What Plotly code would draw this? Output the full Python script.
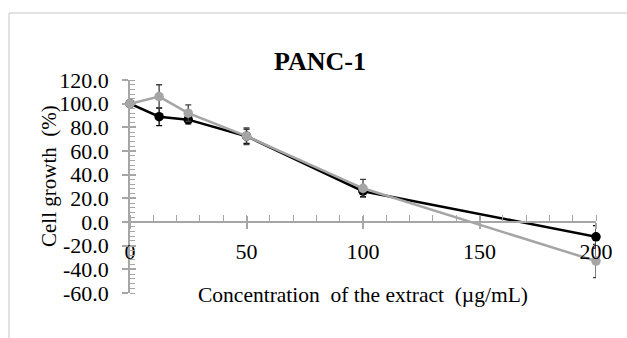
import plotly.graph_objects as go

# ---- data ----
conc = [0, 12.5, 25, 50, 100, 200]
series_black = [100.0, 89.0, 86.5, 72.5, 26.0, -12.5]
err_black = [0.0, 7.5, 3.5, 6.0, 4.5, 9.5]
series_gray = [100.0, 106.0, 92.0, 72.5, 28.5, -33.0]
err_gray = [0.0, 10.0, 7.0, 7.0, 7.5, 14.0]
y_tickvals = [-60, -40, -20, 0, 20, 40, 60, 80, 100, 120]
y_ticktext = ["-60.0", "-40.0", "-20.0", "0.0", "20.0", "40.0", "60.0", "80.0", "100.0", "120.0"]
x_tickvals = [0, 50, 100, 150, 200]
x_ticktext = ["0", "50", "100", "150", "200"]

FONT = "Liberation Serif, Times New Roman, serif"
AXC = "#A6A6A6"

W, H = 627, 338
ML, MR, MT, MB = 130, 31, 80, 45
PW, PH = W - ML - MR, H - MT - MB


def px(x):
    return (x - ML) / PW


def py(y):
    return (H - MB - y) / PH


fig = go.Figure()
fig.add_trace(go.Scatter(
    x=conc, y=series_black, mode="lines+markers",
    line=dict(color="#000000", width=2.5),
    marker=dict(color="#000000", size=9.5),
    error_y=dict(type="data", array=err_black, color="#000000", thickness=1.3, width=3),
    showlegend=False, cliponaxis=False))
fig.add_trace(go.Scatter(
    x=conc, y=series_gray, mode="lines+markers",
    line=dict(color="#A5A5A5", width=2.5),
    marker=dict(color="#A5A5A5", size=9.5),
    error_y=dict(type="data", array=err_gray, color="#404040", thickness=1.3, width=3),
    showlegend=False, cliponaxis=False))
# helper invisible trace for overlay axes
fig.add_trace(go.Scatter(x=[0], y=[0], xaxis="x2", yaxis="y2", mode="markers",
                         marker=dict(opacity=0), showlegend=False, hoverinfo="skip"))

ypos = 60 / 180
fig.update_layout(
    width=W, height=H,
    margin=dict(l=ML, r=MR, t=MT, b=MB),
    paper_bgcolor="white", plot_bgcolor="white",
    font=dict(family=FONT, size=22, color="#000000"),
    xaxis=dict(range=[0, 200], anchor="free", position=ypos,
               tickvals=x_tickvals, ticktext=x_ticktext,
               showline=True, linecolor=AXC, linewidth=1.5,
               ticks="outside", ticklen=6, tickcolor=AXC, tickwidth=1.5,
               minor=dict(ticks="inside", dtick=10, ticklen=6, tickcolor=AXC, tickwidth=1.2),
               showgrid=False, zeroline=False, ticklabelstandoff=4),
    yaxis=dict(range=[-60, 120], domain=[0, 1],
               tickvals=y_tickvals, ticktext=y_ticktext,
               showline=True, linecolor=AXC, linewidth=1.5,
               ticks="outside", ticklen=6, tickcolor=AXC, tickwidth=1.5,
               minor=dict(ticks="inside", dtick=4, ticklen=5, tickcolor=AXC, tickwidth=1),
               showgrid=False, zeroline=False, ticklabelstandoff=9),
    xaxis2=dict(range=[0, 200], matches="x", overlaying="x", anchor="free", position=ypos,
                tickvals=x_tickvals, showticklabels=False, showline=False,
                ticks="inside", ticklen=6, tickcolor=AXC, tickwidth=1.5,
                showgrid=False, zeroline=False),
    yaxis2=dict(range=[-60, 120], matches="y", overlaying="y",
                tickvals=y_tickvals, showticklabels=False, showline=False,
                ticks="inside", ticklen=6, tickcolor=AXC, tickwidth=1.5,
                showgrid=False, zeroline=False),
    annotations=[
        dict(text="<b>PANC-1</b>", x=px(320), y=py(45), xref="paper", yref="paper",
             showarrow=False, font=dict(family=FONT, size=26, color="#000000")),
        dict(text="Concentration\u00a0 of the extract\u00a0 (\u00b5g/mL)", x=px(363), y=py(309),
             xref="paper", yref="paper", showarrow=False,
             font=dict(family=FONT, size=21.5, color="#000000")),
        dict(text="Cell growth\u00a0 (%)", x=px(35), y=py(176), xref="paper", yref="paper",
             showarrow=False, textangle=-90,
             font=dict(family=FONT, size=21, color="#000000")),
    ],
    shapes=[
        dict(type="line", xref="paper", yref="paper", x0=px(9), x1=px(9), y0=py(13), y1=py(340),
             line=dict(color="#D9D9D9", width=1.5)),
        dict(type="line", xref="paper", yref="paper", x0=px(9), x1=px(630), y0=py(13), y1=py(13),
             line=dict(color="#D9D9D9", width=1.5)),
    ],
)

fig.write_html("out.html")
